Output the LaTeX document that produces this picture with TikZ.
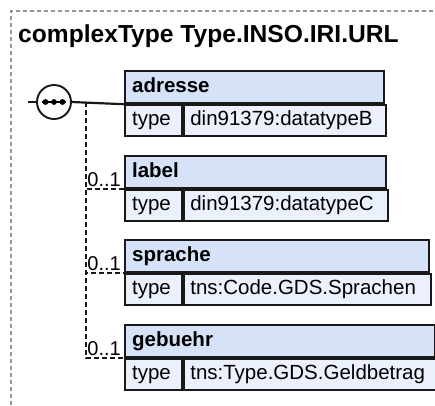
\documentclass[tikz,border=0pt]{standalone}
\usepackage{fontspec}
\setmainfont{Liberation Sans}
\usepackage{xcolor}
\usepackage{tikz}
\usetikzlibrary{positioning}
\definecolor{headblue}{RGB}{213,226,248}
\definecolor{bodyblue}{RGB}{234,240,252}
\definecolor{edgegray}{RGB}{150,150,150}

\begin{document}
\begin{tikzpicture}[
  x=1pt, y=-1pt,
  frame/.style={draw=edgegray, line width=1.2pt, dash pattern=on 4pt off 3pt},
  title/.style={font=\fontsize{24.6}{28}\selectfont\bfseries, inner sep=0pt, anchor=base west},
  elhead/.style={
    draw=black!90,
    fill=headblue,
    line width=2.2pt,
    anchor=north west,
    minimum height=32pt,
    text height=15pt,
    text depth=5pt,
    inner xsep=7pt,
    align=left,
    font=\fontsize{20.5}{24}\selectfont\bfseries
  },
  elcell/.style={
    draw=black!90,
    fill=bodyblue,
    line width=2.2pt,
    minimum height=31pt,
    text height=15pt,
    text depth=5pt,
    inner xsep=6pt,
    align=left,
    font=\fontsize{20.5}{24}\selectfont
  },
  seqcircle/.style={
    circle,
    draw=black!90,
    fill=white,
    line width=1.9pt,
    minimum size=34pt,
    inner sep=0pt
  },
  occurs/.style={font=\fontsize{20}{24}\selectfont, inner sep=1pt},
  conn/.style={draw=black!90, line width=2.2pt},
  optconn/.style={draw=black!90, line width=2pt, dash pattern=on 5pt off 3pt}
]
\useasboundingbox (0,0) rectangle (435,405);
\draw[frame] (11,405) |- (435,11);
\node[title] (ttl) at (18,42) {complexType Type.INSO.IRI.URL};

% sequence
\node[seqcircle] (seq) at (54,102) {};
\draw[line width=1.9pt] ([xshift=-12pt]seq.center) -- ([xshift=12pt]seq.center);
\foreach \dx in {-8.5,0,8.5}
  \fill ([xshift=\dx pt]seq.center) circle (2.9pt);
\coordinate (in) at (28,102);
\coordinate (fork) at (86,102);

% elements
\node[elhead, text width=245pt] (adresse) at (124,70) {adresse};
\node[elcell, text width=43pt, inner xsep=7pt, below right=0pt of adresse.south west] (tadresse) {type};
\node[elcell, text width=190pt, right=0pt of tadresse] (vadresse) {din91379:datatypeB};

\node[elhead, text width=247pt] (label) at (124,155) {label};
\node[elcell, text width=43pt, inner xsep=7pt, below right=0pt of label.south west] (tlabel) {type};
\node[elcell, text width=192pt, right=0pt of tlabel] (vlabel) {din91379:datatypeC};

\node[elhead, text width=290pt] (sprache) at (124,239) {sprache};
\node[elcell, text width=43pt, inner xsep=7pt, below right=0pt of sprache.south west] (tsprache) {type};
\node[elcell, text width=235pt, right=0pt of tsprache] (vsprache) {tns:Code.GDS.Sprachen};

\node[elhead, text width=296pt] (gebuehr) at (124,324) {gebuehr};
\node[elcell, text width=43pt, inner xsep=7pt, below right=0pt of gebuehr.south west] (tgebuehr) {type};
\node[elcell, text width=241pt, right=0pt of tgebuehr] (vgebuehr) {tns:Type.GDS.Geldbetrag};

% occurrence labels
\node[occurs, above left=1pt and 2pt of label.south west] (olabel) {0..1};
\node[occurs, above left=1pt and 2pt of sprache.south west] (osprache) {0..1};
\node[occurs, above left=1pt and 2pt of gebuehr.south west] (ogebuehr) {0..1};

% connectors
\draw[conn] (in) -- (seq.west);
\draw[conn] (seq.east) -- (adresse.south west);
\draw[optconn] (fork) |- (label.south west);
\draw[optconn] (fork) |- (sprache.south west);
\draw[optconn] (fork) |- (gebuehr.south west);
\end{tikzpicture}
\end{document}
